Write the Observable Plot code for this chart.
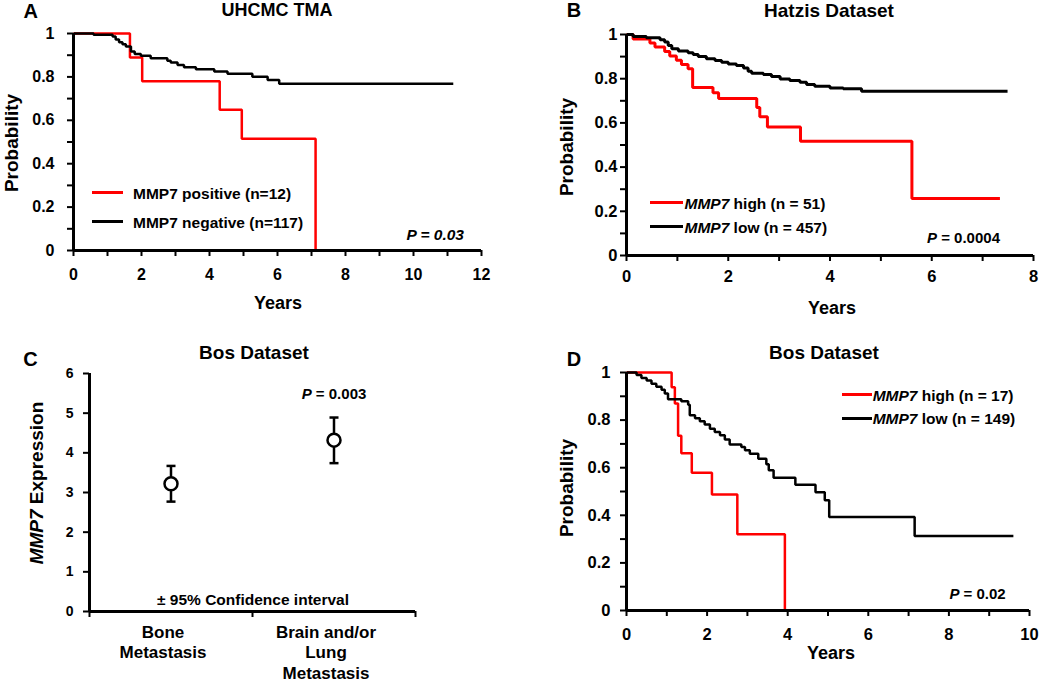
<!DOCTYPE html>
<html><head><meta charset="utf-8">
<script src="https://cdn.jsdelivr.net/npm/d3@7"></script>
<script src="https://cdn.jsdelivr.net/npm/@observablehq/plot@0.6"></script>
<style>
body{margin:0;background:#fff;}
#fig{position:relative;width:1050px;height:682px;overflow:hidden;background:#fff;font-family:'Liberation Sans',Arial,Helvetica,sans-serif;font-weight:bold;color:#000;}
.panel{position:absolute;}
.t{position:absolute;white-space:nowrap;}
.sw{position:absolute;}
</style></head><body><div id="fig"></div>
<script>
// ---------- DATA ----------
// Tick values
const probTicks = [0, 0.1, 0.2, 0.3, 0.4, 0.5, 0.6, 0.7, 0.8, 0.9, 1];
const aXTicks = [0, 1, 2, 3, 4, 5, 6, 7, 8, 9, 10, 11, 12];
const bXTicks = [0, 1, 2, 3, 4, 5, 6, 7, 8];
const dXTicks = [0, 1, 2, 3, 4, 5, 6, 7, 8, 9, 10];
const cYTicks = [0, 1, 2, 3, 4, 5, 6];

// Panel A — UHCMC TMA
const aPosT = [0, 1.66, 2.02, 4.30, 4.95, 7.12];
const aPosS = [1, 0.889, 0.780, 0.649, 0.515, 0];
const aNegT = [0, 0.59, 1.15, 1.24, 1.34, 1.44, 1.54, 1.69, 1.80, 1.98, 2.27, 2.76, 2.86, 3.06, 3.25, 3.60, 4.14, 4.53, 5.26, 5.71, 6.05, 11.17];
const aNegS = [1, 0.994, 0.986, 0.972, 0.960, 0.951, 0.940, 0.917, 0.906, 0.897, 0.886, 0.875, 0.866, 0.855, 0.845, 0.835, 0.825, 0.814, 0.801, 0.786, 0.768, 0.768];

// Panel B — Hatzis Dataset
const bHighT = [0, 0.13, 0.46, 0.56, 0.75, 0.85, 0.98, 1.08, 1.21, 1.30, 1.70, 1.81, 2.56, 2.62, 2.77, 3.42, 5.61, 7.34];
const bHighS = [1, 0.980, 0.961, 0.943, 0.923, 0.903, 0.884, 0.864, 0.845, 0.760, 0.736, 0.710, 0.670, 0.628, 0.581, 0.517, 0.258, 0.258];
const bLowT = [0, 0.13, 0.39, 0.66, 0.75, 0.82, 0.89, 1.02, 1.21, 1.31, 1.41, 1.57, 1.74, 1.87, 2.00, 2.16, 2.30, 2.39, 2.46, 2.69, 2.85, 3.02, 3.21, 3.41, 3.54, 3.70, 4.00, 4.26, 4.62, 7.49];
const bLowS = [1, 0.991, 0.985, 0.976, 0.966, 0.950, 0.935, 0.925, 0.917, 0.910, 0.901, 0.890, 0.882, 0.875, 0.867, 0.860, 0.848, 0.834, 0.825, 0.819, 0.810, 0.799, 0.792, 0.784, 0.774, 0.766, 0.758, 0.754, 0.743, 0.743];

// Panel C — Bos Dataset (MMP7 expression, ±95% CI)
const cCats = ["Bone Metastasis", "Brain and/or Lung Metastasis"];
const cTickLabels = ["Bone\nMetastasis", "Brain and/or\nLung\nMetastasis"];
const cMean = [3.22, 4.32];
const cLo = [2.77, 3.74];
const cHi = [3.67, 4.89];

// Panel D — Bos Dataset
const dHighT = [0, 1.12, 1.20, 1.28, 1.36, 1.62, 2.12, 2.75, 3.93];
const dHighS = [1, 0.938, 0.870, 0.734, 0.661, 0.579, 0.487, 0.320, 0];
const dLowT = [0, 0.25, 0.37, 0.50, 0.62, 0.74, 0.87, 0.95, 1.03, 1.36, 1.53, 1.57, 1.70, 1.82, 1.94, 2.07, 2.19, 2.32, 2.44, 2.56, 2.85, 2.94, 3.06, 3.27, 3.47, 3.53, 3.65, 4.19, 4.69, 4.92, 5.03, 7.15, 9.60];
const dLowS = [1, 0.989, 0.977, 0.966, 0.953, 0.940, 0.928, 0.912, 0.888, 0.879, 0.865, 0.820, 0.808, 0.795, 0.781, 0.764, 0.750, 0.736, 0.719, 0.697, 0.687, 0.673, 0.659, 0.638, 0.615, 0.589, 0.558, 0.528, 0.497, 0.463, 0.393, 0.313, 0.313];

// ---------- HELPERS ----------
const fig = document.getElementById("fig");
const FONT = "'Liberation Sans', Arial, Helvetica, sans-serif";
const RED = "#ff0000";
const rows = (T, S) => T.map((t, i) => ({t, s: S[i]}));
const probFmt = d => { const k = Math.round(d * 10); return k % 2 === 0 ? String(k / 10) : ""; };
const evenFmt = d => d % 2 === 0 ? String(d) : "";
const capSymbol = {draw(ctx, size) { const w = Math.sqrt(size / Math.PI); ctx.moveTo(-w, 0); ctx.lineTo(w, 0); }};

function place(svg, x, y) {
  const d = document.createElement("div");
  d.className = "panel"; d.style.left = x + "px"; d.style.top = y + "px";
  d.appendChild(svg); fig.appendChild(d);
}
function text(html, x, base, size, anchor = "start") {
  const d = document.createElement("div");
  d.className = "t"; d.innerHTML = html;
  const tx = anchor === "middle" ? "translateX(-50%)" : anchor === "end" ? "translateX(-100%)" : "none";
  d.style.cssText += `left:${x}px;top:${base - 0.8465 * size}px;font-size:${size}px;line-height:${size}px;transform:${tx};`;
  fig.appendChild(d);
}
function vtext(html, cx, cy, size) {
  const d = document.createElement("div");
  d.className = "t"; d.innerHTML = html;
  d.style.cssText += `left:${cx}px;top:${cy}px;font-size:${size}px;line-height:${size}px;transform:translate(-50%,-50%) rotate(-90deg);`;
  fig.appendChild(d);
}
function swatch(x1, x2, y, color, h = 3) {
  const d = document.createElement("div");
  d.className = "sw";
  d.style.cssText = `left:${x1}px;top:${y - h / 2}px;width:${x2 - x1}px;height:${h}px;background:${color};`;
  fig.appendChild(d);
}

function kmPlot({w, h, ml, mr, mt, mb, xMax, xTicks, fs, xPad, yPad, lw, series}) {
  return Plot.plot({
    width: w, height: h, marginLeft: ml, marginRight: mr, marginTop: mt, marginBottom: mb,
    x: {domain: [0, xMax], label: null},
    y: {domain: [0, 1], label: null},
    style: {fontFamily: FONT, fontWeight: "bold", fontSize: fs + "px", color: "#000", background: "transparent", overflow: "visible"},
    marks: [
      Plot.axisX({ticks: xTicks, tickFormat: evenFmt, tickSize: 6, tickPadding: xPad, strokeWidth: 2, label: null}),
      Plot.axisY({ticks: probTicks, tickFormat: probFmt, tickSize: 6, tickPadding: yPad, strokeWidth: 2, label: null}),
      ...series.map(sr => Plot.line(sr.data, {x: "t", y: "s", curve: "step-after", stroke: sr.color, strokeWidth: lw, strokeLinejoin: "miter", strokeLinecap: "butt"})),
      Plot.ruleX([0], {strokeWidth: 3}),
      Plot.ruleY([0], {strokeWidth: 3})
    ]
  });
}

// ---------- PANEL A ----------
place(kmPlot({w: 520, h: 330, ml: 73, mr: 39, mt: 33, mb: 80, xMax: 12, xTicks: aXTicks, fs: 16, xPad: 12, yPad: 13, lw: 2.5,
  series: [{data: rows(aPosT, aPosS), color: RED}, {data: rows(aNegT, aNegS), color: "#000"}]}), 0, 0);
text("A", 23.5, 18.3, 20);
text("UHCMC TMA", 277, 16.7, 18, "middle");
vtext("Probability", 10.5, 143, 19);
text("Years", 278, 309.6, 18, "middle");
swatch(92, 123, 192.3, RED, 3);
swatch(92, 123, 221.3, "#000", 3);
text("MMP7 positive (n=12)", 133, 199.4, 15.5);
text("MMP7 negative (n=117)", 133, 228, 15.5);
text("<i>P = 0.03</i>", 464, 240, 15.5, "end");

// ---------- PANEL B ----------
place(kmPlot({w: 530, h: 330, ml: 106, mr: 17, mt: 34, mb: 75, xMax: 8, xTicks: bXTicks, fs: 16.5, xPad: 9, yPad: 3, lw: 3,
  series: [{data: rows(bHighT, bHighS), color: RED}, {data: rows(bLowT, bLowS), color: "#000"}]}), 520, 0);
text("B", 566.7, 16.7, 20);
text("Hatzis Dataset", 829, 16.7, 19, "middle");
vtext("Probability", 566, 147, 19);
text("Years", 832, 314.6, 18, "middle");
swatch(650, 683, 202.3, RED, 3.3);
swatch(650, 683, 226.7, "#000", 3.3);
text("<i>MMP7</i> high (n = 51)", 684.5, 209.4, 15.5);
text("<i>MMP7</i> low (n = 457)", 684.5, 232.8, 15.5);
text("<i>P</i> = 0.0004", 1000, 242.7, 15, "end");

// ---------- PANEL C ----------
const cRows = cCats.map((c, i) => ({cat: c, x: i + 0.5, m: cMean[i], lo: cLo[i], hi: cHi[i]}));
place(Plot.plot({
  width: 520, height: 352, marginLeft: 89, marginRight: 105, marginTop: 43, marginBottom: 71,
  x: {domain: [0, cCats.length], label: null},
  y: {domain: [0, 6], label: null},
  style: {fontFamily: FONT, fontWeight: "bold", fontSize: "14px", color: "#000", background: "transparent", overflow: "visible"},
  marks: [
    Plot.axisY({ticks: cYTicks, tickFormat: d => String(d), tickSize: 6, tickPadding: 10, strokeWidth: 2, label: null}),
    Plot.axisX({ticks: [0, 1, 2], tickFormat: () => "", tickSize: 6, strokeWidth: 2, label: null}),
    Plot.axisX({ticks: cRows.map(d => d.x), tickFormat: d => cTickLabels[Math.floor(d)], tickSize: 0, tickPadding: 12, fontSize: 17, lineHeight: 1.2, dx: -8, label: null}),
    Plot.ruleX(cRows, {x: "x", y1: "lo", y2: "hi", strokeWidth: 2.5}),
    Plot.dot(cRows, {x: "x", y: "lo", symbol: capSymbol, r: 4.5, stroke: "#000", strokeWidth: 2.5, fill: "none"}),
    Plot.dot(cRows, {x: "x", y: "hi", symbol: capSymbol, r: 4.5, stroke: "#000", strokeWidth: 2.5, fill: "none"}),
    Plot.dot(cRows, {x: "x", y: "m", r: 6.5, fill: "#fff", stroke: "#000", strokeWidth: 2.5}),
    Plot.ruleX([0], {strokeWidth: 3}),
    Plot.ruleY([0], {strokeWidth: 3})
  ]
}), 0, 330);
text("C", 23.3, 366, 20);
text("Bos Dataset", 254, 359.3, 19, "middle");
vtext("<i>MMP7</i> Expression", 35.5, 482.5, 19);
text("<i>P</i> = 0.003", 334, 398.3, 15, "middle");
text("± 95% Confidence interval", 253, 605, 15.5, "middle");

// ---------- PANEL D ----------
place(kmPlot({w: 530, h: 352, ml: 106, mr: 21, mt: 42, mb: 72, xMax: 10, xTicks: dXTicks, fs: 16.5, xPad: 12, yPad: 10, lw: 2.5,
  series: [{data: rows(dHighT, dHighS), color: RED}, {data: rows(dLowT, dLowS), color: "#000"}]}), 520, 330);
text("D", 566.7, 366, 20);
text("Bos Dataset", 824, 359.3, 19, "middle");
vtext("Probability", 566, 487.5, 19);
text("Years", 831, 659.6, 18, "middle");
swatch(841.7, 871.7, 394, RED, 3);
swatch(841.7, 871.7, 418.3, "#000", 3);
text("<i>MMP7</i> high (n = 17)", 872.7, 401, 15.5);
text("<i>MMP7</i> low (n = 149)", 872.7, 424.4, 15.5);
text("<i>P</i> = 0.02", 1005.7, 599, 15, "end");
</script></body></html>
